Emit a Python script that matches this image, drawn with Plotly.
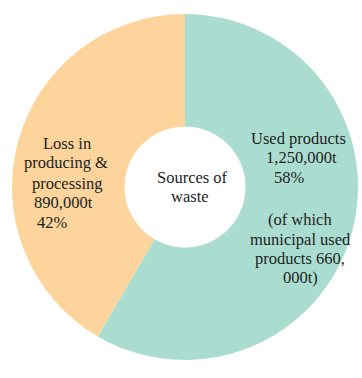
import plotly.graph_objects as go

# Sources of waste (tonnes)
categories = ["Used products", "Loss in producing & processing"]
tonnes = [1250000, 890000]
colors = ["#aaddd0", "#fcd49c"]

# Label text, one entry per line, with its centre position in pixels
left_lines = ["Loss in", "producing &", "processing", "890,000t", "42%"]
left_pos = [(67, 143), (66, 163), (67, 183), (63, 202), (52, 222)]
right_lines = ["Used products", "1,250,000t", "58%", "(of which", "municipal used",
               "products 660,", "000t)"]
right_pos = [(298, 138), (301, 157), (289, 177), (300, 219), (300, 239),
             (300, 258), (300, 277)]
centre_lines = ["Sources of", "waste"]
centre_pos = [(192, 177), (190, 196)]

W, H = 362, 378
cx, cy, r = 185, 187, 173

fig = go.Figure(go.Pie(
    labels=categories,
    values=tonnes,
    marker=dict(colors=colors, line=dict(width=0)),
    hole=0.35,
    sort=False,
    direction="clockwise",
    rotation=0,
    textinfo="none",
    hoverinfo="label+value+percent",
    showlegend=False,
    domain=dict(x=[(cx - r) / W, (cx + r) / W],
                y=[1 - (cy + r) / H, 1 - (cy - r) / H]),
))

annotations = []
for lines, pos in ((left_lines, left_pos), (right_lines, right_pos),
                   (centre_lines, centre_pos)):
    for text, (px, py) in zip(lines, pos):
        annotations.append(dict(
            text=text, x=px / W, y=1 - py / H, xref="paper", yref="paper",
            xanchor="center", yanchor="middle", showarrow=False,
            font=dict(family="Liberation Serif", size=16.5, color="#1e1e1e"),
        ))

fig.update_layout(
    width=W, height=H,
    margin=dict(l=0, r=0, t=0, b=0),
    paper_bgcolor="white",
    plot_bgcolor="white",
    annotations=annotations,
)

fig.write_html("out.html")
